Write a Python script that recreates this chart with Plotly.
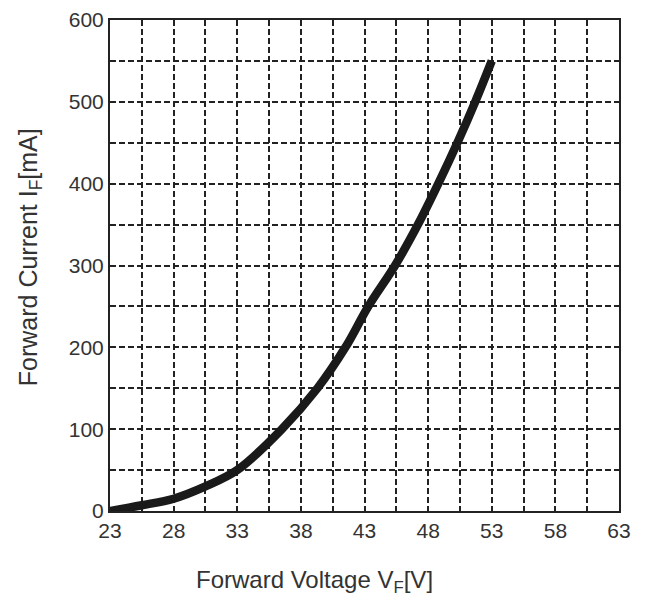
import plotly.graph_objects as go

voltage = [23, 25.5, 28, 30.5, 33, 36.5, 39.3, 41.5, 43.3, 45.4, 47.2, 48.8, 50.3, 51.7, 53]
current = [0, 7, 15, 30, 50, 100, 150, 200, 250, 300, 350, 400, 450, 500, 550]

x_ticks = [23, 28, 33, 38, 43, 48, 53, 58, 63]
y_ticks = [0, 100, 200, 300, 400, 500, 600]

x_title = "Forward Voltage V<sub>F</sub>[V]"
y_title = "Forward Current I<sub>F</sub>[mA]"

FONT = "Liberation Sans, Arial, sans-serif"
TXT = "#333333"

fig = go.Figure()
fig.add_trace(go.Scatter(
    x=voltage, y=current, mode="lines",
    line=dict(color="#1a1a1a", width=8.5, shape="spline", smoothing=1.0),
    showlegend=False, hoverinfo="skip",
))

grid_common = dict(gridcolor="#222", gridwidth=1.5, griddash="6px,3px")

fig.update_layout(
    width=646, height=598,
    margin=dict(l=110, r=27, t=20, b=87),
    paper_bgcolor="white", plot_bgcolor="white",
    font=dict(family=FONT, color=TXT),
    xaxis=dict(
        range=[23, 63], tickmode="array", tickvals=x_ticks,
        ticktext=[str(v) for v in x_ticks],
        showgrid=True, **grid_common,
        minor=dict(dtick=2.5, tick0=23, showgrid=True, **grid_common),
        showline=True, linecolor="#222", linewidth=2, mirror=True,
        ticks="", tickfont=dict(size=21, family=FONT, color=TXT),
        zeroline=False, automargin=False,
    ),
    yaxis=dict(
        range=[0, 600], tickmode="array", tickvals=y_ticks,
        ticktext=[str(v) for v in y_ticks],
        showgrid=True, **grid_common,
        minor=dict(dtick=50, tick0=0, showgrid=True, **grid_common),
        showline=True, linecolor="#222", linewidth=2, mirror=True,
        ticks="", tickfont=dict(size=21, family=FONT, color=TXT),
        zeroline=False, automargin=False,
    ),
    annotations=[
        dict(text=x_title, xref="paper", yref="paper", x=0.401, y=-0.143,
             xanchor="center", yanchor="middle", showarrow=False,
             font=dict(size=24, family=FONT, color=TXT)),
        dict(text=y_title, xref="paper", yref="paper", x=-0.157, y=0.517,
             xanchor="center", yanchor="middle", showarrow=False, textangle=-90,
             font=dict(size=25, family=FONT, color=TXT)),
    ],
)

fig.write_html("out.html")
